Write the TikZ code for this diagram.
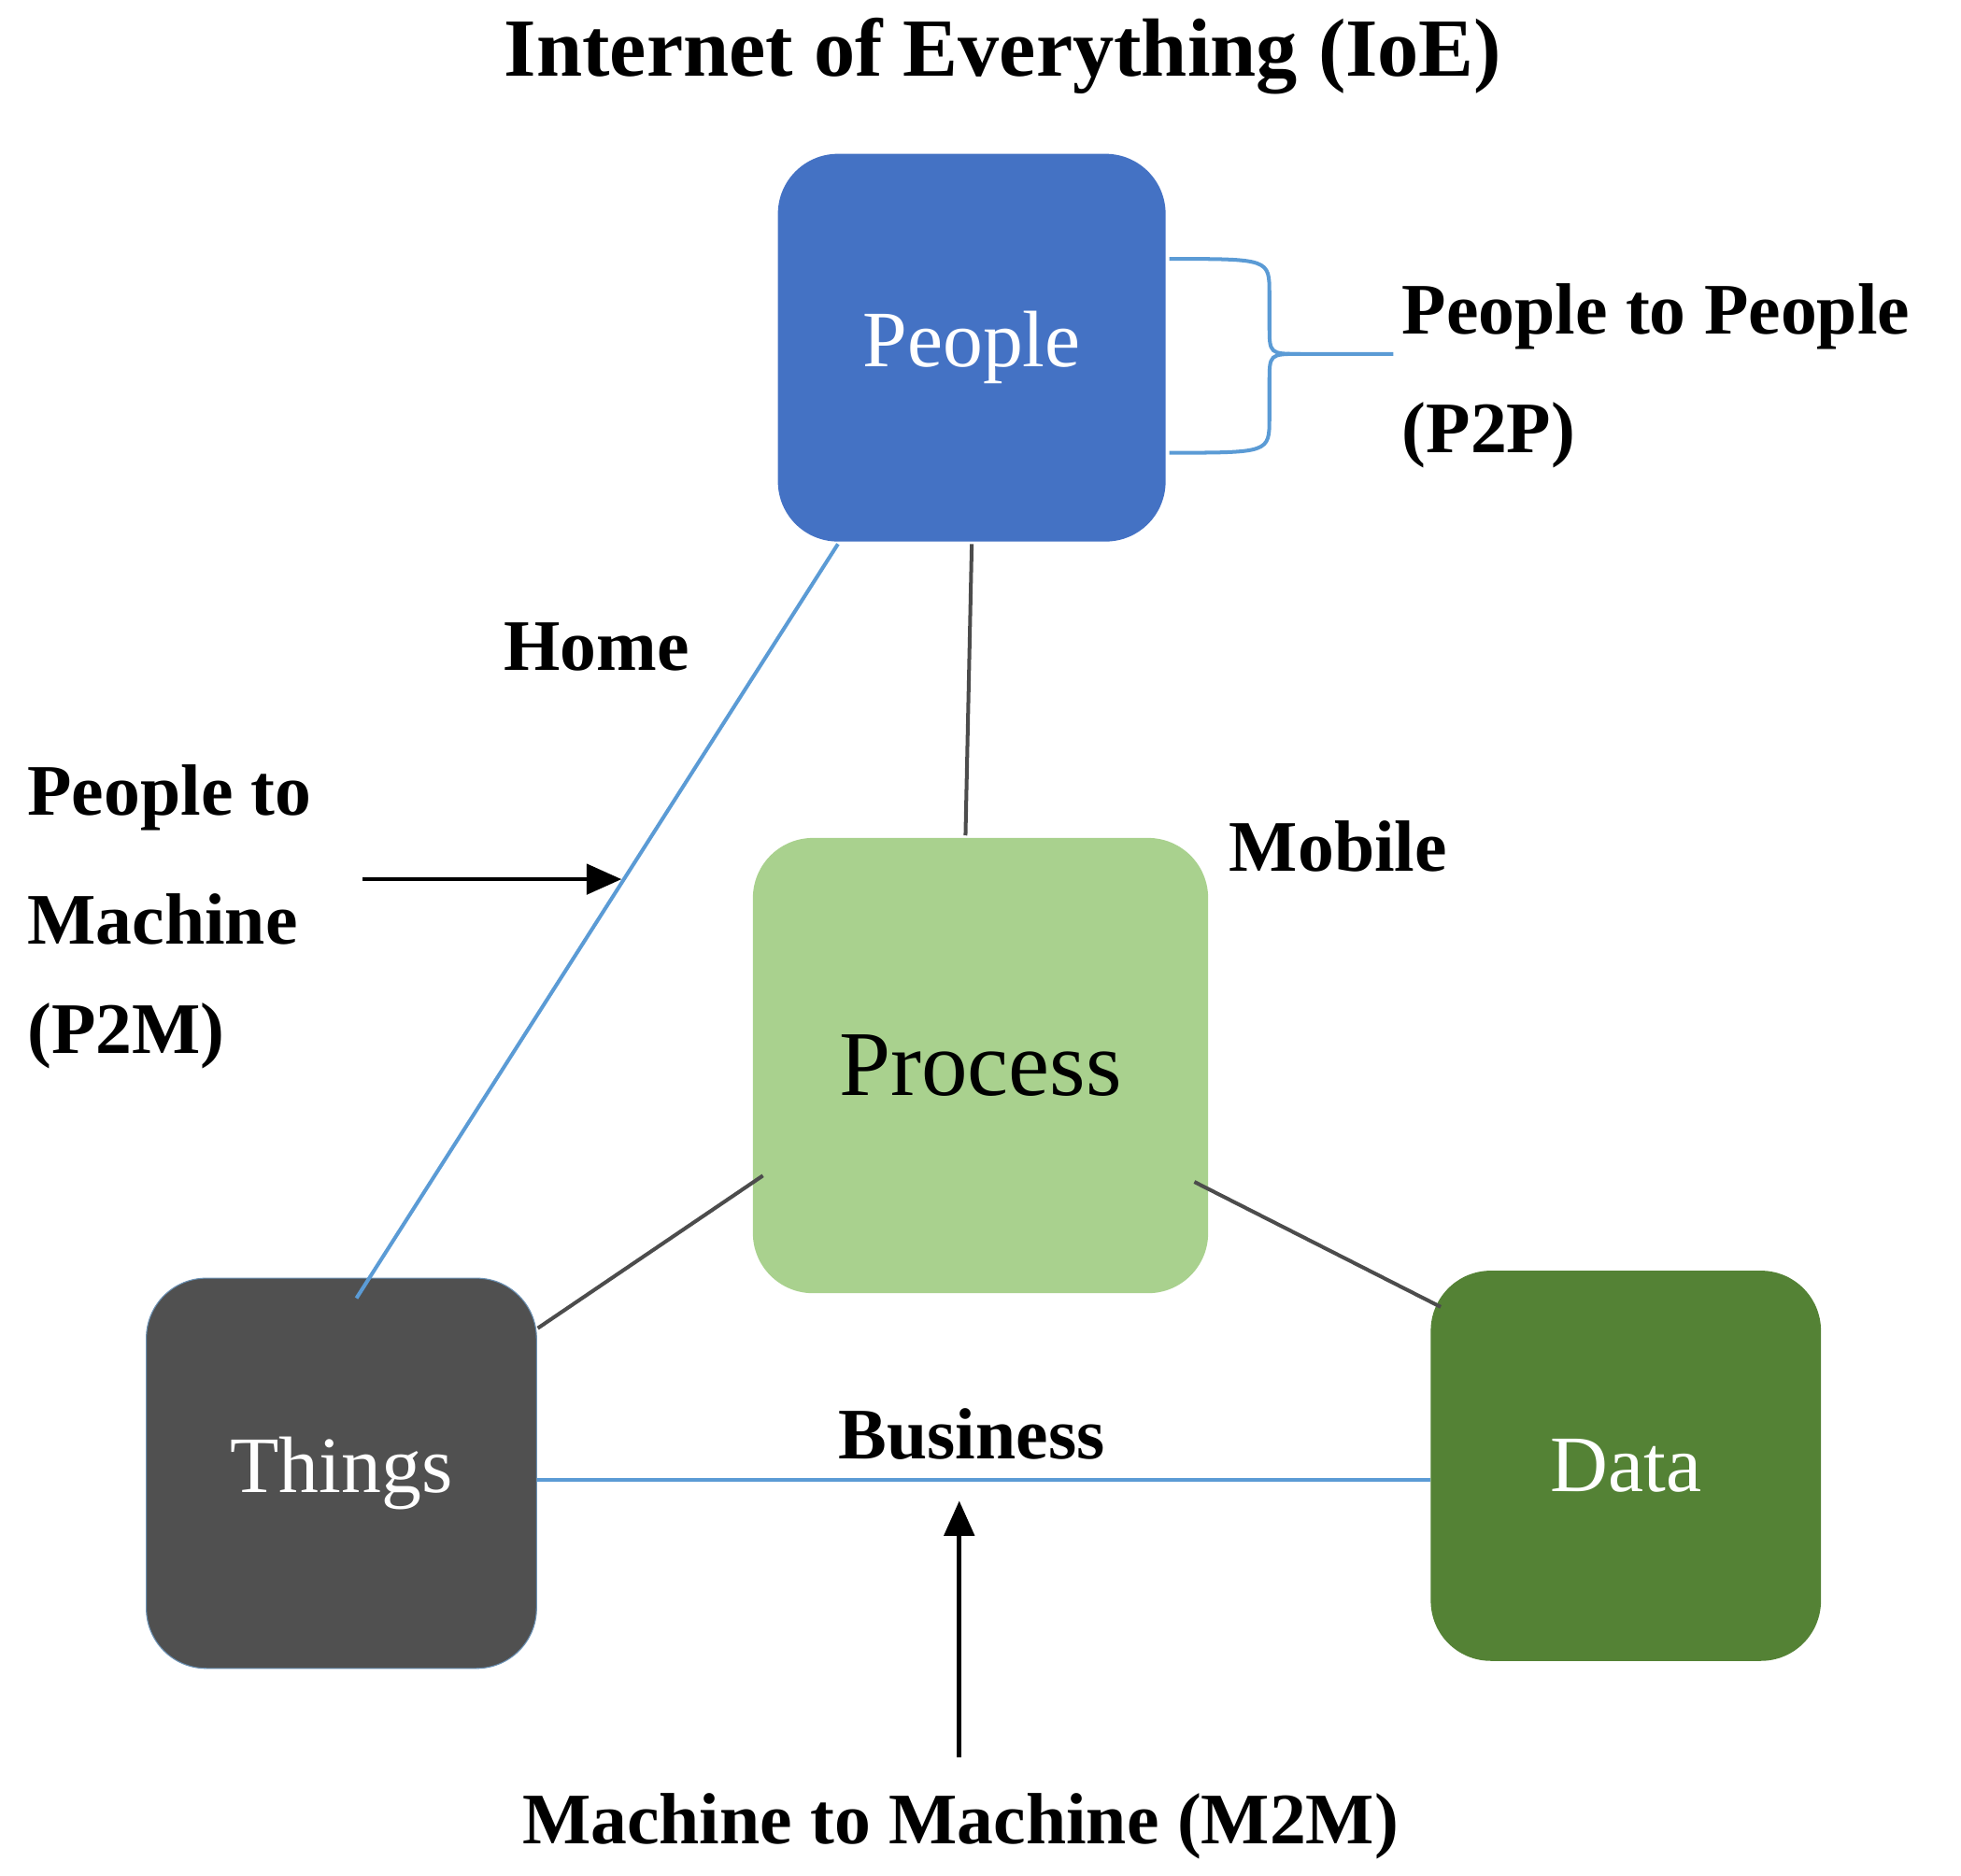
\documentclass[tikz,border=0pt]{standalone}
\usepackage{fontspec}
\setmainfont{Liberation Serif}
\usetikzlibrary{arrows.meta}
\definecolor{peopleC}{HTML}{4472C4}
\definecolor{procC}{HTML}{A9D18E}
\definecolor{thingC}{HTML}{505050}
\definecolor{dataC}{HTML}{548235}
\definecolor{lineB}{HTML}{5B9BD5}
\begin{document}
\begin{tikzpicture}[x=0.5pt,y=-0.5pt,
 box/.style={rounded corners=24pt,inner sep=0pt},
 lbl/.style={font=\fontsize{29}{32}\selectfont\bfseries},
 bl/.style={draw=lineB,line width=1.5pt},
 gl/.style={draw=black!70,line width=1.5pt},
 arr/.style={line width=1.8pt,-{Triangle[length=14pt,width=12pt]}}]
\useasboundingbox (0,0) rectangle (1568,1500);
\node[box,fill=peopleC,minimum width=155pt,minimum height=155pt,text=white,font=\fontsize{32}{34}\selectfont] (people) at (777,278) {People};
\node[box,fill=procC,minimum width=182pt,minimum height=182pt,font=\fontsize{37}{40}\selectfont] (proc) at (784,852) {Process};
\node[box,fill=thingC,draw=lineB!60!gray,minimum width=156pt,minimum height=156pt,text=white,font=\fontsize{32}{34}\selectfont] (things) at (273,1178) {Things};
\node[box,fill=dataC,minimum width=156pt,minimum height=156pt,text=white,font=\fontsize{32}{34}\selectfont] (data) at (1300,1172) {Data};
\node[lbl,font=\fontsize{33}{36}\selectfont\bfseries] (title) at (802,45) {Internet of Everything (IoE)};
\node[lbl] (home) at (477,517) {Home};
\node[lbl,anchor=west] (p2m1) at (15,638) {People to};
\node[lbl,anchor=west] (p2m2) at (15,735) {Machine};
\node[lbl,anchor=west] (p2m3) at (15,828) {(P2M)};
\node[lbl] (mobile) at (1070,677) {Mobile};
\node[lbl] (business) at (777,1147) {Business};
\node[lbl] (m2m) at (768,1460) {Machine to Machine (M2M)};
\node[lbl,anchor=west] (p2p1) at (1114,253) {People to People};
\node[lbl,anchor=west] (p2p2) at (1114,348) {(P2P)};
\coordinate (a1) at (670,435); \coordinate (a2) at (285,1038);
\draw[bl] (a1) -- (a2);
\coordinate (ps) at (290,703); \coordinate (pe) at (497,703);
\draw[arr] (ps) -- (pe);
\draw[gl] (777,435) -- (772,668);
\draw[gl] (610,940) -- (430,1062);
\draw[gl] (955,945) -- (1152,1045);
\draw[bl] (things.east |- 0,1183) -- (data.west |- 0,1183);
\coordinate (ms) at (767,1405); \coordinate (me) at (767,1200);
\draw[arr] (ms) -- (me);
\draw[bl] (935,207) .. controls (1015,207) .. (1015,235) -- (1015,260) .. controls (1015,283) .. (1040,283) -- (p2p1.west |- 0,283);
\draw[bl] (935,362) .. controls (1015,362) .. (1015,334) -- (1015,306) .. controls (1015,283) .. (1040,283);
\end{tikzpicture}
\end{document}
